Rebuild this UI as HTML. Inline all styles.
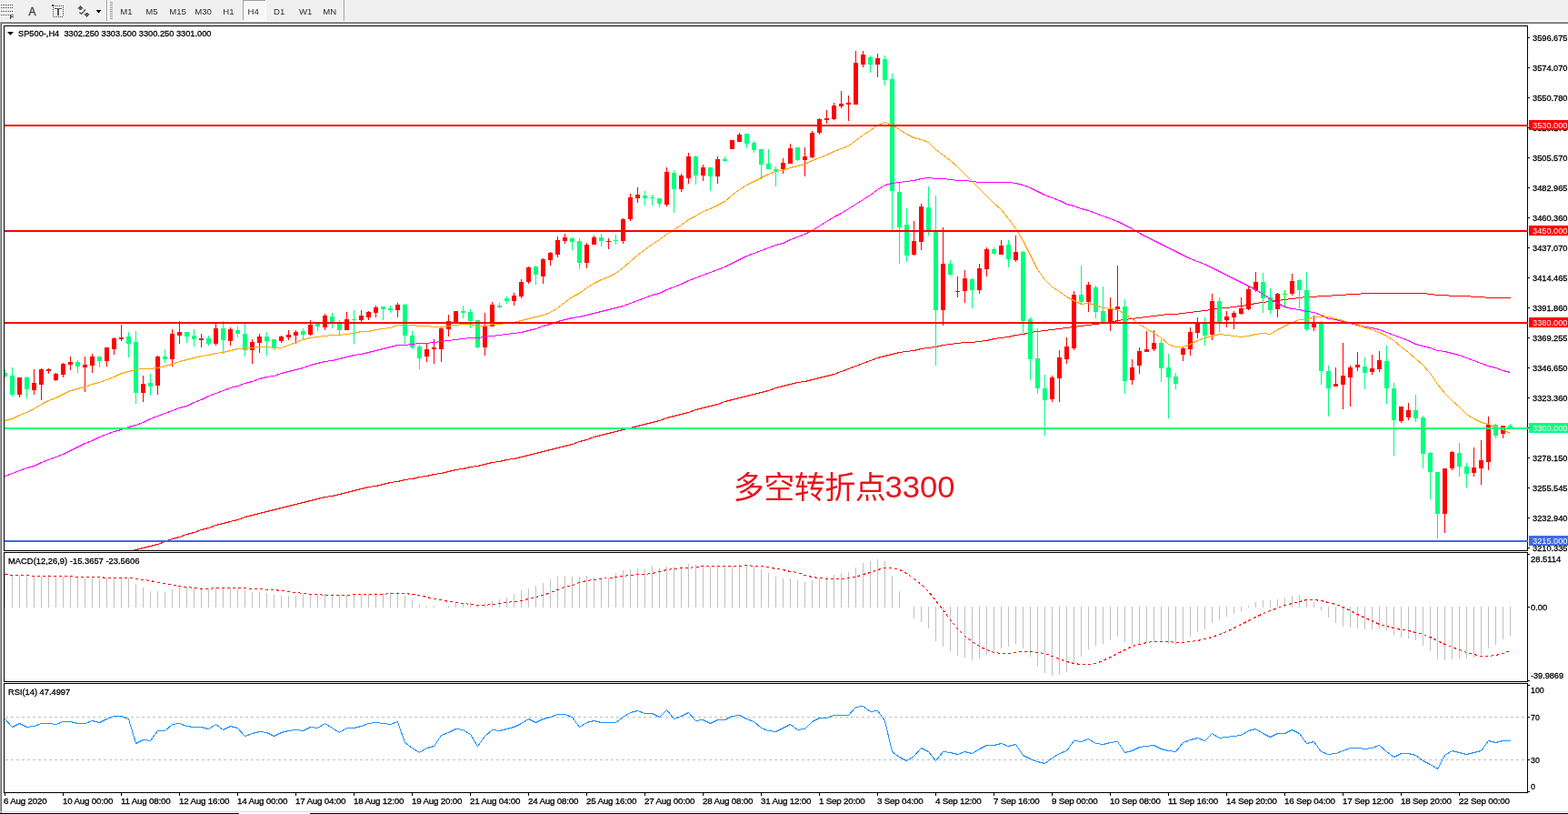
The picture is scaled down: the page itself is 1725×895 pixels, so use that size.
<!DOCTYPE html>
<html><head><meta charset="utf-8"><title>SP500 H4</title>
<style>
html,body{margin:0;padding:0;background:#fff;}
body{width:1725px;height:895px;overflow:hidden;}
svg{display:block;font-family:"Liberation Sans","Noto Sans CJK SC",sans-serif;}

</style></head><body>
<svg width="1725" height="895" viewBox="0 0 1725 895">
<rect x="0" y="0" width="1725" height="895" fill="#ffffff"/>
<rect x="0" y="0" width="1725" height="23" fill="#f0f0f0"/>
<rect x="0" y="23" width="1725" height="1" fill="#fbfbfb"/>
<rect x="0" y="24" width="1725" height="1" fill="#a0a0a0"/>
<rect x="0" y="25" width="1725" height="1" fill="#696969"/>
<rect x="0" y="24" width="1" height="871" fill="#a0a0a0"/>
<rect x="1" y="25" width="1" height="870" fill="#696969"/>
<rect x="0" y="892" width="1725" height="1" fill="#dcdcdc"/>
<rect x="0" y="894" width="263" height="1" fill="#000"/>
<rect x="341" y="894" width="1384" height="1" fill="#000"/>
<rect x="1" y="5" width="1" height="1" fill="#404040"/>
<rect x="3" y="5" width="1" height="1" fill="#404040"/>
<rect x="5" y="5" width="1" height="1" fill="#404040"/>
<rect x="7" y="5" width="1" height="1" fill="#404040"/>
<rect x="9" y="5" width="1" height="1" fill="#404040"/>
<rect x="11" y="5" width="1" height="1" fill="#404040"/>
<rect x="13" y="5" width="1" height="1" fill="#404040"/>
<rect x="1" y="8" width="1" height="1" fill="#404040"/>
<rect x="3" y="8" width="1" height="1" fill="#404040"/>
<rect x="5" y="8" width="1" height="1" fill="#404040"/>
<rect x="7" y="8" width="1" height="1" fill="#404040"/>
<rect x="9" y="8" width="1" height="1" fill="#404040"/>
<rect x="11" y="8" width="1" height="1" fill="#404040"/>
<rect x="13" y="8" width="1" height="1" fill="#404040"/>
<rect x="1" y="12" width="1" height="1" fill="#404040"/>
<rect x="3" y="12" width="1" height="1" fill="#404040"/>
<rect x="5" y="12" width="1" height="1" fill="#404040"/>
<rect x="7" y="12" width="1" height="1" fill="#404040"/>
<rect x="9" y="12" width="1" height="1" fill="#404040"/>
<rect x="11" y="12" width="1" height="1" fill="#404040"/>
<rect x="13" y="12" width="1" height="1" fill="#404040"/>
<rect x="1" y="16" width="1" height="1" fill="#404040"/>
<rect x="3" y="16" width="1" height="1" fill="#404040"/>
<rect x="5" y="16" width="1" height="1" fill="#404040"/>
<rect x="7" y="16" width="1" height="1" fill="#404040"/>
<rect x="9" y="16" width="1" height="1" fill="#404040"/>
<text x="10.5" y="21" font-size="8" font-weight="bold" fill="#404040">F</text>
<text x="31.6" y="17" font-size="12" fill="#505050" stroke="#505050" stroke-width="0.5" font-family="Liberation Sans">A</text>
<rect x="61" y="6" width="1" height="1" fill="#404040"/>
<rect x="63" y="6" width="1" height="1" fill="#404040"/>
<rect x="65" y="6" width="1" height="1" fill="#404040"/>
<rect x="67" y="6" width="1" height="1" fill="#404040"/>
<rect x="69" y="6" width="1" height="1" fill="#404040"/>
<rect x="58" y="18" width="1" height="1" fill="#404040"/>
<rect x="60" y="18" width="1" height="1" fill="#404040"/>
<rect x="62" y="18" width="1" height="1" fill="#404040"/>
<rect x="64" y="18" width="1" height="1" fill="#404040"/>
<rect x="66" y="18" width="1" height="1" fill="#404040"/>
<rect x="68" y="18" width="1" height="1" fill="#404040"/>
<rect x="58" y="8" width="1" height="1" fill="#404040"/>
<rect x="69" y="8" width="1" height="1" fill="#404040"/>
<rect x="58" y="10" width="1" height="1" fill="#404040"/>
<rect x="69" y="10" width="1" height="1" fill="#404040"/>
<rect x="58" y="12" width="1" height="1" fill="#404040"/>
<rect x="69" y="12" width="1" height="1" fill="#404040"/>
<rect x="58" y="14" width="1" height="1" fill="#404040"/>
<rect x="69" y="14" width="1" height="1" fill="#404040"/>
<rect x="58" y="16" width="1" height="1" fill="#404040"/>
<rect x="69" y="16" width="1" height="1" fill="#404040"/>
<rect x="57" y="5" width="2" height="2" fill="#404040"/>
<rect x="59" y="6" width="1" height="1" fill="#404040"/>
<rect x="60" y="9" width="8" height="1" fill="#555"/>
<rect x="63" y="9" width="2" height="8" fill="#555"/>
<polygon points="85,9.6 88.5,6 92,9.6 89.8,9.6 89.8,11 87.2,11 87.2,9.6" fill="#555"/>
<polyline points="87.5,13.5 89.5,15.5 94,10.5" fill="none" stroke="#444" stroke-width="1.2"/>
<polygon points="94.2,14 96.9,14 96.9,15.2 99,15.2 95.5,19 92,15.2 94.2,15.2" fill="#555"/>
<polygon points="105.5,11 111.5,11 108.5,14.5" fill="#000"/>
<rect x="117" y="0" width="1" height="23" fill="#a0a0a0"/>
<rect x="118" y="0" width="1" height="23" fill="#ffffff"/>
<rect x="121" y="2" width="3" height="1" fill="#a0a0a0"/>
<rect x="121" y="4" width="3" height="1" fill="#a0a0a0"/>
<rect x="121" y="6" width="3" height="1" fill="#a0a0a0"/>
<rect x="121" y="8" width="3" height="1" fill="#a0a0a0"/>
<rect x="121" y="10" width="3" height="1" fill="#a0a0a0"/>
<rect x="121" y="12" width="3" height="1" fill="#a0a0a0"/>
<rect x="121" y="14" width="3" height="1" fill="#a0a0a0"/>
<rect x="121" y="16" width="3" height="1" fill="#a0a0a0"/>
<rect x="121" y="18" width="3" height="1" fill="#a0a0a0"/>
<rect x="121" y="20" width="3" height="1" fill="#a0a0a0"/>
<defs><pattern id="chk" x="0" y="0" width="2" height="2" patternUnits="userSpaceOnUse"><rect width="2" height="2" fill="#f0f0f0"/><rect width="1" height="1" fill="#ffffff"/><rect x="1" y="1" width="1" height="1" fill="#ffffff"/></pattern></defs>
<rect x="267" y="0" width="26" height="23" fill="#ffffff"/>
<rect x="268" y="1" width="24" height="21" fill="url(#chk)"/>
<rect x="267" y="0" width="25" height="1" fill="#a0a0a0"/>
<rect x="267" y="0" width="1" height="22" fill="#a0a0a0"/>
<rect x="378" y="0" width="1" height="23" fill="#a0a0a0"/>
<rect x="379" y="0" width="1" height="23" fill="#ffffff"/>
<text x="132.3" y="15.6" font-size="9.6" fill="#2c2c2c">M1</text>
<text x="160.3" y="15.6" font-size="9.6" fill="#2c2c2c">M5</text>
<text x="186.3" y="15.6" font-size="9.6" fill="#2c2c2c">M15</text>
<text x="214.3" y="15.6" font-size="9.6" fill="#2c2c2c">M30</text>
<text x="245.3" y="15.6" font-size="9.6" fill="#2c2c2c">H1</text>
<text x="272.5" y="15.6" font-size="9.6" fill="#2c2c2c">H4</text>
<text x="301" y="15.6" font-size="9.6" fill="#2c2c2c">D1</text>
<text x="329" y="15.6" font-size="9.6" fill="#2c2c2c">W1</text>
<text x="355.3" y="15.6" font-size="9.6" fill="#2c2c2c">MN</text>
<rect x="4" y="28" width="1677" height="1" fill="#000"/>
<rect x="4" y="605" width="1677" height="1" fill="#000"/>
<rect x="4" y="28" width="1" height="578" fill="#000"/>
<rect x="1680" y="28" width="1" height="578" fill="#000"/>
<rect x="4" y="607" width="1677" height="1" fill="#000"/>
<rect x="4" y="749" width="1677" height="1" fill="#000"/>
<rect x="4" y="607" width="1" height="143" fill="#000"/>
<rect x="1680" y="607" width="1" height="143" fill="#000"/>
<rect x="4" y="751" width="1677" height="1" fill="#000"/>
<rect x="4" y="871" width="1677" height="1" fill="#000"/>
<rect x="4" y="751" width="1" height="121" fill="#000"/>
<rect x="1680" y="751" width="1" height="121" fill="#000"/>
<defs><clipPath id="cm"><rect x="5" y="29" width="1675" height="576"/></clipPath><clipPath id="cd"><rect x="5" y="608" width="1675" height="141"/></clipPath><clipPath id="cr"><rect x="5" y="752" width="1675" height="119"/></clipPath></defs>
<g clip-path="url(#cm)" shape-rendering="crispEdges">
<polyline points="5.5,640.5 13.5,638.5 21.5,636.5 29.5,634.5 37.5,632.5 45.5,630.5 53.5,628.5 61.5,626.5 69.5,624.5 77.5,622.5 85.5,620.5 93.5,618.5 101.5,616.5 109.5,614.5 117.5,612.5 125.5,610.5 133.5,608.5 141.5,606.5 149.5,604.5 157.5,602.5 165.5,600.5 173.5,598.5 181.5,595.5 189.5,592.5 197.5,590.5 205.5,587.5 213.5,585.5 221.5,582.5 229.5,580.5 237.5,577.5 245.5,575.5 253.5,573.5 261.5,571.5 269.5,568.5 277.5,566.5 285.5,564.5 293.5,562.5 301.5,560.5 309.5,558.5 317.5,556.5 325.5,554.5 333.5,552.5 341.5,550.5 349.5,548.5 357.5,546.5 365.5,545.5 373.5,543.5 381.5,541.5 389.5,539.5 397.5,537.5 405.5,535.5 413.5,534.5 421.5,532.5 429.5,530.5 437.5,529.5 445.5,527.5 453.5,526.5 461.5,524.5 469.5,523.5 477.5,521.5 485.5,520.5 493.5,518.5 501.5,516.5 509.5,515.5 517.5,513.5 525.5,512.5 533.5,510.5 541.5,508.5 549.5,507.5 557.5,505.5 565.5,504.5 573.5,502.5 581.5,500.5 589.5,498.5 597.5,496.5 605.5,494.5 613.5,492.5 621.5,490.5 629.5,488.5 637.5,485.5 645.5,483.5 653.5,480.5 661.5,478.5 669.5,476.5 677.5,474.5 685.5,472.5 693.5,470.5 701.5,468.5 709.5,466.5 717.5,464.5 725.5,462.5 733.5,459.5 741.5,457.5 749.5,455.5 757.5,453.5 765.5,450.5 773.5,448.5 781.5,446.5 789.5,444.5 797.5,441.5 805.5,439.5 813.5,437.5 821.5,435.5 829.5,433.5 837.5,431.5 845.5,429.5 853.5,426.5 861.5,424.5 869.5,422.5 877.5,420.5 885.5,419.5 893.5,417.5 901.5,415.5 909.5,413.5 917.5,411.5 925.5,408.5 933.5,405.5 941.5,402.5 949.5,399.5 957.5,396.5 965.5,393.5 973.5,391.5 981.5,389.5 989.5,387.5 997.5,386.5 1005.5,385.5 1013.5,383.5 1021.5,382.5 1029.5,381.5 1037.5,379.5 1045.5,378.5 1053.5,377.5 1061.5,376.5 1069.5,376.5 1077.5,375.5 1085.5,374.5 1093.5,372.5 1101.5,371.5 1109.5,370.5 1117.5,368.5 1125.5,367.5 1133.5,365.5 1141.5,364.5 1149.5,363.5 1157.5,362.5 1165.5,361.5 1173.5,360.5 1181.5,359.5 1189.5,358.5 1197.5,357.5 1205.5,356.5 1213.5,355.5 1221.5,354.5 1229.5,352.5 1237.5,351.5 1245.5,350.5 1253.5,349.5 1261.5,348.5 1269.5,347.5 1277.5,346.5 1285.5,345.5 1293.5,345.5 1301.5,344.5 1309.5,343.5 1317.5,342.5 1325.5,341.5 1333.5,340.5 1341.5,338.5 1349.5,338.5 1357.5,337.5 1365.5,336.5 1373.5,335.5 1381.5,333.5 1389.5,332.5 1397.5,331.5 1405.5,330.5 1413.5,329.5 1421.5,328.5 1429.5,327.5 1437.5,326.5 1445.5,326.5 1453.5,325.5 1461.5,325.5 1469.5,324.5 1477.5,324.5 1485.5,323.5 1493.5,323.5 1501.5,322.5 1509.5,322.5 1517.5,322.5 1525.5,322.5 1533.5,322.5 1541.5,322.5 1549.5,322.5 1557.5,322.5 1565.5,322.5 1573.5,323.5 1581.5,324.5 1589.5,324.5 1597.5,325.5 1605.5,325.5 1613.5,325.5 1621.5,326.5 1629.5,326.5 1637.5,327.5 1645.5,327.5 1653.5,327.5 1661.5,327.5" fill="none" stroke="#ff0000" stroke-width="1"/>
<rect x="5" y="406" width="1" height="9" fill="#00ff7f"/>
<rect x="3" y="410" width="5" height="4" fill="#00ff7f"/>
<rect x="13" y="404" width="1" height="32" fill="#00ff7f"/>
<rect x="11" y="413" width="5" height="21" fill="#00ff7f"/>
<rect x="21" y="415" width="1" height="22" fill="#ff0000"/>
<rect x="19" y="415" width="5" height="19" fill="#ff0000"/>
<rect x="29" y="414" width="1" height="24" fill="#00ff7f"/>
<rect x="27" y="415" width="5" height="13" fill="#00ff7f"/>
<rect x="37" y="406" width="1" height="28" fill="#ff0000"/>
<rect x="35" y="421" width="5" height="8" fill="#ff0000"/>
<rect x="45" y="405" width="1" height="35" fill="#ff0000"/>
<rect x="43" y="406" width="5" height="17" fill="#ff0000"/>
<rect x="53" y="405" width="1" height="6" fill="#ff0000"/>
<rect x="51" y="406" width="5" height="2" fill="#ff0000"/>
<rect x="61" y="410" width="1" height="9" fill="#ff0000"/>
<rect x="59" y="411" width="5" height="7" fill="#ff0000"/>
<rect x="69" y="399" width="1" height="16" fill="#ff0000"/>
<rect x="67" y="400" width="5" height="12" fill="#ff0000"/>
<rect x="77" y="392" width="1" height="15" fill="#ff0000"/>
<rect x="75" y="398" width="5" height="3" fill="#ff0000"/>
<rect x="85" y="396" width="1" height="14" fill="#00ff7f"/>
<rect x="83" y="398" width="5" height="5" fill="#00ff7f"/>
<rect x="93" y="392" width="1" height="39" fill="#ff0000"/>
<rect x="91" y="401" width="5" height="3" fill="#ff0000"/>
<rect x="101" y="389" width="1" height="21" fill="#ff0000"/>
<rect x="99" y="392" width="5" height="10" fill="#ff0000"/>
<rect x="109" y="392" width="1" height="12" fill="#00ff7f"/>
<rect x="107" y="392" width="5" height="5" fill="#00ff7f"/>
<rect x="117" y="382" width="1" height="21" fill="#ff0000"/>
<rect x="115" y="382" width="5" height="15" fill="#ff0000"/>
<rect x="125" y="371" width="1" height="19" fill="#ff0000"/>
<rect x="123" y="372" width="5" height="12" fill="#ff0000"/>
<rect x="133" y="357" width="1" height="18" fill="#ff0000"/>
<rect x="131" y="371" width="5" height="2" fill="#ff0000"/>
<rect x="141" y="365" width="1" height="28" fill="#00ff7f"/>
<rect x="139" y="370" width="5" height="8" fill="#00ff7f"/>
<rect x="149" y="364" width="1" height="80" fill="#00ff7f"/>
<rect x="147" y="376" width="5" height="56" fill="#00ff7f"/>
<rect x="157" y="413" width="1" height="29" fill="#ff0000"/>
<rect x="155" y="422" width="5" height="10" fill="#ff0000"/>
<rect x="165" y="411" width="1" height="24" fill="#00ff7f"/>
<rect x="163" y="421" width="5" height="4" fill="#00ff7f"/>
<rect x="173" y="391" width="1" height="43" fill="#ff0000"/>
<rect x="171" y="392" width="5" height="32" fill="#ff0000"/>
<rect x="181" y="384" width="1" height="15" fill="#00ff7f"/>
<rect x="179" y="392" width="5" height="3" fill="#00ff7f"/>
<rect x="189" y="362" width="1" height="41" fill="#ff0000"/>
<rect x="187" y="367" width="5" height="28" fill="#ff0000"/>
<rect x="197" y="353" width="1" height="25" fill="#ff0000"/>
<rect x="195" y="365" width="5" height="4" fill="#ff0000"/>
<rect x="205" y="365" width="1" height="12" fill="#00ff7f"/>
<rect x="203" y="365" width="5" height="5" fill="#00ff7f"/>
<rect x="213" y="362" width="1" height="19" fill="#00ff7f"/>
<rect x="211" y="369" width="5" height="4" fill="#00ff7f"/>
<rect x="221" y="367" width="1" height="15" fill="#ff0000"/>
<rect x="219" y="372" width="5" height="2" fill="#ff0000"/>
<rect x="229" y="369" width="1" height="11" fill="#00ff7f"/>
<rect x="227" y="372" width="5" height="6" fill="#00ff7f"/>
<rect x="237" y="356" width="1" height="24" fill="#ff0000"/>
<rect x="235" y="361" width="5" height="17" fill="#ff0000"/>
<rect x="245" y="353" width="1" height="36" fill="#00ff7f"/>
<rect x="243" y="361" width="5" height="13" fill="#00ff7f"/>
<rect x="253" y="360" width="1" height="20" fill="#ff0000"/>
<rect x="251" y="362" width="5" height="13" fill="#ff0000"/>
<rect x="261" y="359" width="1" height="12" fill="#00ff7f"/>
<rect x="259" y="363" width="5" height="4" fill="#00ff7f"/>
<rect x="269" y="356" width="1" height="36" fill="#00ff7f"/>
<rect x="267" y="367" width="5" height="18" fill="#00ff7f"/>
<rect x="277" y="373" width="1" height="27" fill="#ff0000"/>
<rect x="275" y="376" width="5" height="9" fill="#ff0000"/>
<rect x="285" y="367" width="1" height="21" fill="#ff0000"/>
<rect x="283" y="370" width="5" height="7" fill="#ff0000"/>
<rect x="293" y="365" width="1" height="26" fill="#00ff7f"/>
<rect x="291" y="370" width="5" height="5" fill="#00ff7f"/>
<rect x="301" y="373" width="1" height="12" fill="#00ff7f"/>
<rect x="299" y="373" width="5" height="9" fill="#00ff7f"/>
<rect x="309" y="369" width="1" height="8" fill="#ff0000"/>
<rect x="307" y="370" width="5" height="5" fill="#ff0000"/>
<rect x="317" y="363" width="1" height="11" fill="#ff0000"/>
<rect x="315" y="368" width="5" height="3" fill="#ff0000"/>
<rect x="325" y="363" width="1" height="15" fill="#ff0000"/>
<rect x="323" y="365" width="5" height="4" fill="#ff0000"/>
<rect x="333" y="361" width="1" height="12" fill="#00ff7f"/>
<rect x="331" y="364" width="5" height="4" fill="#00ff7f"/>
<rect x="341" y="352" width="1" height="17" fill="#ff0000"/>
<rect x="339" y="357" width="5" height="11" fill="#ff0000"/>
<rect x="349" y="356" width="1" height="8" fill="#00ff7f"/>
<rect x="347" y="356" width="5" height="3" fill="#00ff7f"/>
<rect x="357" y="345" width="1" height="18" fill="#ff0000"/>
<rect x="355" y="347" width="5" height="13" fill="#ff0000"/>
<rect x="365" y="344" width="1" height="17" fill="#00ff7f"/>
<rect x="363" y="348" width="5" height="6" fill="#00ff7f"/>
<rect x="373" y="352" width="1" height="16" fill="#00ff7f"/>
<rect x="371" y="356" width="5" height="7" fill="#00ff7f"/>
<rect x="381" y="343" width="1" height="20" fill="#ff0000"/>
<rect x="379" y="351" width="5" height="12" fill="#ff0000"/>
<rect x="389" y="341" width="1" height="37" fill="#00ff7f"/>
<rect x="387" y="351" width="5" height="1" fill="#00ff7f"/>
<rect x="397" y="341" width="1" height="13" fill="#ff0000"/>
<rect x="395" y="347" width="5" height="5" fill="#ff0000"/>
<rect x="405" y="342" width="1" height="10" fill="#ff0000"/>
<rect x="403" y="343" width="5" height="6" fill="#ff0000"/>
<rect x="413" y="336" width="1" height="13" fill="#ff0000"/>
<rect x="411" y="338" width="5" height="6" fill="#ff0000"/>
<rect x="421" y="337" width="1" height="15" fill="#00ff7f"/>
<rect x="419" y="337" width="5" height="3" fill="#00ff7f"/>
<rect x="429" y="336" width="1" height="8" fill="#00ff7f"/>
<rect x="427" y="339" width="5" height="2" fill="#00ff7f"/>
<rect x="437" y="333" width="1" height="16" fill="#ff0000"/>
<rect x="435" y="335" width="5" height="6" fill="#ff0000"/>
<rect x="445" y="334" width="1" height="44" fill="#00ff7f"/>
<rect x="443" y="335" width="5" height="34" fill="#00ff7f"/>
<rect x="453" y="364" width="1" height="20" fill="#00ff7f"/>
<rect x="451" y="369" width="5" height="13" fill="#00ff7f"/>
<rect x="461" y="379" width="1" height="27" fill="#00ff7f"/>
<rect x="459" y="381" width="5" height="13" fill="#00ff7f"/>
<rect x="469" y="378" width="1" height="20" fill="#ff0000"/>
<rect x="467" y="384" width="5" height="8" fill="#ff0000"/>
<rect x="477" y="373" width="1" height="27" fill="#ff0000"/>
<rect x="475" y="382" width="5" height="2" fill="#ff0000"/>
<rect x="485" y="360" width="1" height="38" fill="#ff0000"/>
<rect x="483" y="361" width="5" height="23" fill="#ff0000"/>
<rect x="493" y="346" width="1" height="24" fill="#ff0000"/>
<rect x="491" y="353" width="5" height="9" fill="#ff0000"/>
<rect x="501" y="342" width="1" height="14" fill="#ff0000"/>
<rect x="499" y="342" width="5" height="14" fill="#ff0000"/>
<rect x="509" y="336" width="1" height="14" fill="#00ff7f"/>
<rect x="507" y="342" width="5" height="2" fill="#00ff7f"/>
<rect x="517" y="340" width="1" height="21" fill="#00ff7f"/>
<rect x="515" y="343" width="5" height="10" fill="#00ff7f"/>
<rect x="525" y="352" width="1" height="31" fill="#00ff7f"/>
<rect x="523" y="352" width="5" height="30" fill="#00ff7f"/>
<rect x="533" y="344" width="1" height="47" fill="#ff0000"/>
<rect x="531" y="358" width="5" height="24" fill="#ff0000"/>
<rect x="541" y="332" width="1" height="27" fill="#ff0000"/>
<rect x="539" y="335" width="5" height="24" fill="#ff0000"/>
<rect x="549" y="333" width="1" height="6" fill="#00ff7f"/>
<rect x="547" y="336" width="5" height="2" fill="#00ff7f"/>
<rect x="557" y="326" width="1" height="8" fill="#00ff7f"/>
<rect x="555" y="328" width="5" height="3" fill="#00ff7f"/>
<rect x="565" y="322" width="1" height="14" fill="#ff0000"/>
<rect x="563" y="325" width="5" height="6" fill="#ff0000"/>
<rect x="573" y="307" width="1" height="21" fill="#ff0000"/>
<rect x="571" y="310" width="5" height="16" fill="#ff0000"/>
<rect x="581" y="293" width="1" height="19" fill="#ff0000"/>
<rect x="579" y="294" width="5" height="16" fill="#ff0000"/>
<rect x="589" y="292" width="1" height="21" fill="#00ff7f"/>
<rect x="587" y="293" width="5" height="9" fill="#00ff7f"/>
<rect x="597" y="284" width="1" height="28" fill="#ff0000"/>
<rect x="595" y="285" width="5" height="19" fill="#ff0000"/>
<rect x="605" y="277" width="1" height="15" fill="#ff0000"/>
<rect x="603" y="278" width="5" height="8" fill="#ff0000"/>
<rect x="613" y="260" width="1" height="23" fill="#ff0000"/>
<rect x="611" y="264" width="5" height="16" fill="#ff0000"/>
<rect x="621" y="257" width="1" height="11" fill="#ff0000"/>
<rect x="619" y="261" width="5" height="4" fill="#ff0000"/>
<rect x="629" y="261" width="1" height="14" fill="#00ff7f"/>
<rect x="627" y="262" width="5" height="4" fill="#00ff7f"/>
<rect x="637" y="262" width="1" height="34" fill="#00ff7f"/>
<rect x="635" y="265" width="5" height="24" fill="#00ff7f"/>
<rect x="645" y="267" width="1" height="28" fill="#ff0000"/>
<rect x="643" y="269" width="5" height="20" fill="#ff0000"/>
<rect x="653" y="259" width="1" height="10" fill="#ff0000"/>
<rect x="651" y="261" width="5" height="8" fill="#ff0000"/>
<rect x="661" y="257" width="1" height="14" fill="#00ff7f"/>
<rect x="659" y="261" width="5" height="4" fill="#00ff7f"/>
<rect x="669" y="262" width="1" height="12" fill="#ff0000"/>
<rect x="667" y="265" width="5" height="1" fill="#ff0000"/>
<rect x="677" y="258" width="1" height="11" fill="#00ff7f"/>
<rect x="675" y="264" width="5" height="1" fill="#00ff7f"/>
<rect x="685" y="240" width="1" height="28" fill="#ff0000"/>
<rect x="683" y="241" width="5" height="24" fill="#ff0000"/>
<rect x="693" y="213" width="1" height="30" fill="#ff0000"/>
<rect x="691" y="217" width="5" height="24" fill="#ff0000"/>
<rect x="701" y="206" width="1" height="17" fill="#ff0000"/>
<rect x="699" y="214" width="5" height="4" fill="#ff0000"/>
<rect x="709" y="210" width="1" height="16" fill="#00ff7f"/>
<rect x="707" y="215" width="5" height="3" fill="#00ff7f"/>
<rect x="717" y="214" width="1" height="12" fill="#00ff7f"/>
<rect x="715" y="217" width="5" height="1" fill="#00ff7f"/>
<rect x="725" y="218" width="1" height="10" fill="#00ff7f"/>
<rect x="723" y="218" width="5" height="6" fill="#00ff7f"/>
<rect x="733" y="184" width="1" height="43" fill="#ff0000"/>
<rect x="731" y="189" width="5" height="36" fill="#ff0000"/>
<rect x="741" y="187" width="1" height="47" fill="#00ff7f"/>
<rect x="739" y="190" width="5" height="18" fill="#00ff7f"/>
<rect x="749" y="191" width="1" height="20" fill="#ff0000"/>
<rect x="747" y="193" width="5" height="15" fill="#ff0000"/>
<rect x="757" y="168" width="1" height="34" fill="#ff0000"/>
<rect x="755" y="172" width="5" height="24" fill="#ff0000"/>
<rect x="765" y="171" width="1" height="32" fill="#00ff7f"/>
<rect x="763" y="172" width="5" height="21" fill="#00ff7f"/>
<rect x="773" y="181" width="1" height="18" fill="#ff0000"/>
<rect x="771" y="184" width="5" height="9" fill="#ff0000"/>
<rect x="781" y="184" width="1" height="26" fill="#00ff7f"/>
<rect x="779" y="184" width="5" height="10" fill="#00ff7f"/>
<rect x="789" y="172" width="1" height="30" fill="#ff0000"/>
<rect x="787" y="175" width="5" height="19" fill="#ff0000"/>
<rect x="797" y="172" width="1" height="6" fill="#00ff7f"/>
<rect x="795" y="175" width="5" height="2" fill="#00ff7f"/>
<rect x="805" y="154" width="1" height="10" fill="#ff0000"/>
<rect x="803" y="154" width="5" height="10" fill="#ff0000"/>
<rect x="813" y="146" width="1" height="10" fill="#ff0000"/>
<rect x="811" y="148" width="5" height="8" fill="#ff0000"/>
<rect x="821" y="147" width="1" height="16" fill="#00ff7f"/>
<rect x="819" y="147" width="5" height="11" fill="#00ff7f"/>
<rect x="829" y="155" width="1" height="13" fill="#00ff7f"/>
<rect x="827" y="157" width="5" height="8" fill="#00ff7f"/>
<rect x="837" y="164" width="1" height="33" fill="#00ff7f"/>
<rect x="835" y="164" width="5" height="17" fill="#00ff7f"/>
<rect x="845" y="164" width="1" height="22" fill="#00ff7f"/>
<rect x="843" y="180" width="5" height="6" fill="#00ff7f"/>
<rect x="853" y="183" width="1" height="22" fill="#00ff7f"/>
<rect x="851" y="186" width="5" height="2" fill="#00ff7f"/>
<rect x="861" y="174" width="1" height="17" fill="#ff0000"/>
<rect x="859" y="179" width="5" height="7" fill="#ff0000"/>
<rect x="869" y="158" width="1" height="22" fill="#ff0000"/>
<rect x="867" y="163" width="5" height="17" fill="#ff0000"/>
<rect x="877" y="162" width="1" height="15" fill="#00ff7f"/>
<rect x="875" y="162" width="5" height="14" fill="#00ff7f"/>
<rect x="885" y="162" width="1" height="32" fill="#ff0000"/>
<rect x="883" y="172" width="5" height="4" fill="#ff0000"/>
<rect x="893" y="144" width="1" height="30" fill="#ff0000"/>
<rect x="891" y="146" width="5" height="27" fill="#ff0000"/>
<rect x="901" y="130" width="1" height="18" fill="#ff0000"/>
<rect x="899" y="131" width="5" height="15" fill="#ff0000"/>
<rect x="909" y="121" width="1" height="15" fill="#ff0000"/>
<rect x="907" y="130" width="5" height="2" fill="#ff0000"/>
<rect x="917" y="113" width="1" height="19" fill="#ff0000"/>
<rect x="915" y="116" width="5" height="15" fill="#ff0000"/>
<rect x="925" y="100" width="1" height="19" fill="#ff0000"/>
<rect x="923" y="114" width="5" height="3" fill="#ff0000"/>
<rect x="933" y="105" width="1" height="28" fill="#ff0000"/>
<rect x="931" y="113" width="5" height="2" fill="#ff0000"/>
<rect x="941" y="56" width="1" height="59" fill="#ff0000"/>
<rect x="939" y="69" width="5" height="46" fill="#ff0000"/>
<rect x="949" y="56" width="1" height="18" fill="#ff0000"/>
<rect x="947" y="60" width="5" height="11" fill="#ff0000"/>
<rect x="957" y="61" width="1" height="19" fill="#00ff7f"/>
<rect x="955" y="63" width="5" height="8" fill="#00ff7f"/>
<rect x="965" y="59" width="1" height="26" fill="#ff0000"/>
<rect x="963" y="64" width="5" height="7" fill="#ff0000"/>
<rect x="973" y="61" width="1" height="33" fill="#00ff7f"/>
<rect x="971" y="65" width="5" height="23" fill="#00ff7f"/>
<rect x="981" y="81" width="1" height="172" fill="#00ff7f"/>
<rect x="979" y="87" width="5" height="123" fill="#00ff7f"/>
<rect x="989" y="200" width="1" height="90" fill="#00ff7f"/>
<rect x="987" y="211" width="5" height="39" fill="#00ff7f"/>
<rect x="997" y="229" width="1" height="59" fill="#00ff7f"/>
<rect x="995" y="247" width="5" height="34" fill="#00ff7f"/>
<rect x="1005" y="243" width="1" height="38" fill="#ff0000"/>
<rect x="1003" y="265" width="5" height="15" fill="#ff0000"/>
<rect x="1013" y="224" width="1" height="51" fill="#ff0000"/>
<rect x="1011" y="227" width="5" height="39" fill="#ff0000"/>
<rect x="1021" y="205" width="1" height="54" fill="#00ff7f"/>
<rect x="1019" y="228" width="5" height="25" fill="#00ff7f"/>
<rect x="1029" y="215" width="1" height="187" fill="#00ff7f"/>
<rect x="1027" y="255" width="5" height="86" fill="#00ff7f"/>
<rect x="1037" y="250" width="1" height="108" fill="#ff0000"/>
<rect x="1035" y="290" width="5" height="51" fill="#ff0000"/>
<rect x="1045" y="286" width="1" height="17" fill="#00ff7f"/>
<rect x="1043" y="290" width="5" height="12" fill="#00ff7f"/>
<rect x="1053" y="304" width="1" height="23" fill="#ff0000"/>
<rect x="1051" y="320" width="5" height="1" fill="#ff0000"/>
<rect x="1061" y="297" width="1" height="36" fill="#ff0000"/>
<rect x="1059" y="306" width="5" height="14" fill="#ff0000"/>
<rect x="1069" y="306" width="1" height="33" fill="#00ff7f"/>
<rect x="1067" y="307" width="5" height="12" fill="#00ff7f"/>
<rect x="1077" y="290" width="1" height="33" fill="#ff0000"/>
<rect x="1075" y="295" width="5" height="24" fill="#ff0000"/>
<rect x="1085" y="272" width="1" height="32" fill="#ff0000"/>
<rect x="1083" y="274" width="5" height="22" fill="#ff0000"/>
<rect x="1093" y="272" width="1" height="8" fill="#00ff7f"/>
<rect x="1091" y="274" width="5" height="5" fill="#00ff7f"/>
<rect x="1101" y="264" width="1" height="16" fill="#ff0000"/>
<rect x="1099" y="270" width="5" height="10" fill="#ff0000"/>
<rect x="1109" y="264" width="1" height="30" fill="#00ff7f"/>
<rect x="1107" y="269" width="5" height="16" fill="#00ff7f"/>
<rect x="1117" y="259" width="1" height="29" fill="#ff0000"/>
<rect x="1115" y="277" width="5" height="9" fill="#ff0000"/>
<rect x="1125" y="276" width="1" height="90" fill="#00ff7f"/>
<rect x="1123" y="277" width="5" height="76" fill="#00ff7f"/>
<rect x="1133" y="349" width="1" height="69" fill="#00ff7f"/>
<rect x="1131" y="351" width="5" height="44" fill="#00ff7f"/>
<rect x="1141" y="361" width="1" height="72" fill="#00ff7f"/>
<rect x="1139" y="394" width="5" height="33" fill="#00ff7f"/>
<rect x="1149" y="412" width="1" height="67" fill="#00ff7f"/>
<rect x="1147" y="427" width="5" height="13" fill="#00ff7f"/>
<rect x="1157" y="413" width="1" height="29" fill="#ff0000"/>
<rect x="1155" y="415" width="5" height="24" fill="#ff0000"/>
<rect x="1165" y="385" width="1" height="57" fill="#ff0000"/>
<rect x="1163" y="393" width="5" height="23" fill="#ff0000"/>
<rect x="1173" y="371" width="1" height="29" fill="#ff0000"/>
<rect x="1171" y="381" width="5" height="14" fill="#ff0000"/>
<rect x="1181" y="320" width="1" height="65" fill="#ff0000"/>
<rect x="1179" y="324" width="5" height="59" fill="#ff0000"/>
<rect x="1189" y="292" width="1" height="42" fill="#00ff7f"/>
<rect x="1187" y="324" width="5" height="8" fill="#00ff7f"/>
<rect x="1197" y="310" width="1" height="33" fill="#ff0000"/>
<rect x="1195" y="313" width="5" height="19" fill="#ff0000"/>
<rect x="1205" y="314" width="1" height="36" fill="#00ff7f"/>
<rect x="1203" y="316" width="5" height="27" fill="#00ff7f"/>
<rect x="1213" y="315" width="1" height="39" fill="#00ff7f"/>
<rect x="1211" y="342" width="5" height="12" fill="#00ff7f"/>
<rect x="1221" y="327" width="1" height="37" fill="#ff0000"/>
<rect x="1219" y="340" width="5" height="14" fill="#ff0000"/>
<rect x="1229" y="292" width="1" height="62" fill="#ff0000"/>
<rect x="1227" y="337" width="5" height="3" fill="#ff0000"/>
<rect x="1237" y="329" width="1" height="104" fill="#00ff7f"/>
<rect x="1235" y="337" width="5" height="82" fill="#00ff7f"/>
<rect x="1245" y="395" width="1" height="28" fill="#ff0000"/>
<rect x="1243" y="404" width="5" height="14" fill="#ff0000"/>
<rect x="1253" y="382" width="1" height="29" fill="#ff0000"/>
<rect x="1251" y="386" width="5" height="16" fill="#ff0000"/>
<rect x="1261" y="364" width="1" height="23" fill="#ff0000"/>
<rect x="1259" y="384" width="5" height="3" fill="#ff0000"/>
<rect x="1269" y="363" width="1" height="23" fill="#ff0000"/>
<rect x="1267" y="377" width="5" height="7" fill="#ff0000"/>
<rect x="1277" y="373" width="1" height="47" fill="#00ff7f"/>
<rect x="1275" y="377" width="5" height="28" fill="#00ff7f"/>
<rect x="1285" y="389" width="1" height="71" fill="#00ff7f"/>
<rect x="1283" y="404" width="5" height="11" fill="#00ff7f"/>
<rect x="1293" y="410" width="1" height="18" fill="#00ff7f"/>
<rect x="1291" y="414" width="5" height="8" fill="#00ff7f"/>
<rect x="1301" y="382" width="1" height="15" fill="#ff0000"/>
<rect x="1299" y="383" width="5" height="7" fill="#ff0000"/>
<rect x="1309" y="360" width="1" height="31" fill="#ff0000"/>
<rect x="1307" y="365" width="5" height="19" fill="#ff0000"/>
<rect x="1317" y="349" width="1" height="23" fill="#ff0000"/>
<rect x="1315" y="355" width="5" height="11" fill="#ff0000"/>
<rect x="1325" y="349" width="1" height="31" fill="#00ff7f"/>
<rect x="1323" y="354" width="5" height="15" fill="#00ff7f"/>
<rect x="1333" y="323" width="1" height="51" fill="#ff0000"/>
<rect x="1331" y="331" width="5" height="37" fill="#ff0000"/>
<rect x="1341" y="327" width="1" height="38" fill="#00ff7f"/>
<rect x="1339" y="331" width="5" height="23" fill="#00ff7f"/>
<rect x="1349" y="342" width="1" height="18" fill="#ff0000"/>
<rect x="1347" y="348" width="5" height="4" fill="#ff0000"/>
<rect x="1357" y="342" width="1" height="20" fill="#ff0000"/>
<rect x="1355" y="344" width="5" height="5" fill="#ff0000"/>
<rect x="1365" y="327" width="1" height="19" fill="#ff0000"/>
<rect x="1363" y="339" width="5" height="6" fill="#ff0000"/>
<rect x="1373" y="314" width="1" height="27" fill="#ff0000"/>
<rect x="1371" y="318" width="5" height="22" fill="#ff0000"/>
<rect x="1381" y="299" width="1" height="22" fill="#ff0000"/>
<rect x="1379" y="310" width="5" height="9" fill="#ff0000"/>
<rect x="1389" y="300" width="1" height="44" fill="#00ff7f"/>
<rect x="1387" y="310" width="5" height="18" fill="#00ff7f"/>
<rect x="1397" y="317" width="1" height="28" fill="#00ff7f"/>
<rect x="1395" y="327" width="5" height="14" fill="#00ff7f"/>
<rect x="1405" y="322" width="1" height="27" fill="#ff0000"/>
<rect x="1403" y="323" width="5" height="17" fill="#ff0000"/>
<rect x="1413" y="319" width="1" height="18" fill="#00ff00"/>
<rect x="1411" y="323" width="5" height="1" fill="#00ff00"/>
<rect x="1421" y="301" width="1" height="24" fill="#ff0000"/>
<rect x="1419" y="309" width="5" height="14" fill="#ff0000"/>
<rect x="1429" y="307" width="1" height="32" fill="#00ff7f"/>
<rect x="1427" y="308" width="5" height="11" fill="#00ff7f"/>
<rect x="1437" y="299" width="1" height="65" fill="#00ff7f"/>
<rect x="1435" y="319" width="5" height="43" fill="#00ff7f"/>
<rect x="1445" y="347" width="1" height="17" fill="#ff0000"/>
<rect x="1443" y="354" width="5" height="6" fill="#ff0000"/>
<rect x="1453" y="353" width="1" height="70" fill="#00ff7f"/>
<rect x="1451" y="354" width="5" height="54" fill="#00ff7f"/>
<rect x="1461" y="402" width="1" height="56" fill="#00ff7f"/>
<rect x="1459" y="408" width="5" height="19" fill="#00ff7f"/>
<rect x="1469" y="404" width="1" height="21" fill="#ff0000"/>
<rect x="1467" y="422" width="5" height="3" fill="#ff0000"/>
<rect x="1477" y="377" width="1" height="73" fill="#ff0000"/>
<rect x="1475" y="413" width="5" height="10" fill="#ff0000"/>
<rect x="1485" y="402" width="1" height="45" fill="#ff0000"/>
<rect x="1483" y="404" width="5" height="11" fill="#ff0000"/>
<rect x="1493" y="387" width="1" height="21" fill="#ff0000"/>
<rect x="1491" y="401" width="5" height="3" fill="#ff0000"/>
<rect x="1501" y="393" width="1" height="35" fill="#00ff7f"/>
<rect x="1499" y="403" width="5" height="7" fill="#00ff7f"/>
<rect x="1509" y="390" width="1" height="22" fill="#ff0000"/>
<rect x="1507" y="405" width="5" height="4" fill="#ff0000"/>
<rect x="1517" y="386" width="1" height="23" fill="#ff0000"/>
<rect x="1515" y="396" width="5" height="10" fill="#ff0000"/>
<rect x="1525" y="380" width="1" height="64" fill="#00ff7f"/>
<rect x="1523" y="397" width="5" height="30" fill="#00ff7f"/>
<rect x="1533" y="421" width="1" height="80" fill="#00ff7f"/>
<rect x="1531" y="427" width="5" height="35" fill="#00ff7f"/>
<rect x="1541" y="447" width="1" height="18" fill="#ff0000"/>
<rect x="1539" y="447" width="5" height="16" fill="#ff0000"/>
<rect x="1549" y="443" width="1" height="19" fill="#ff0000"/>
<rect x="1547" y="451" width="5" height="8" fill="#ff0000"/>
<rect x="1557" y="434" width="1" height="30" fill="#00ff7f"/>
<rect x="1555" y="451" width="5" height="9" fill="#00ff7f"/>
<rect x="1565" y="457" width="1" height="58" fill="#00ff7f"/>
<rect x="1563" y="459" width="5" height="40" fill="#00ff7f"/>
<rect x="1573" y="497" width="1" height="52" fill="#00ff7f"/>
<rect x="1571" y="498" width="5" height="21" fill="#00ff7f"/>
<rect x="1581" y="519" width="1" height="73" fill="#00ff7f"/>
<rect x="1579" y="519" width="5" height="46" fill="#00ff7f"/>
<rect x="1589" y="515" width="1" height="71" fill="#ff0000"/>
<rect x="1587" y="515" width="5" height="50" fill="#ff0000"/>
<rect x="1597" y="496" width="1" height="21" fill="#ff0000"/>
<rect x="1595" y="497" width="5" height="18" fill="#ff0000"/>
<rect x="1605" y="487" width="1" height="37" fill="#00ff7f"/>
<rect x="1603" y="498" width="5" height="15" fill="#00ff7f"/>
<rect x="1613" y="509" width="1" height="27" fill="#00ff7f"/>
<rect x="1611" y="513" width="5" height="8" fill="#00ff7f"/>
<rect x="1621" y="492" width="1" height="32" fill="#ff0000"/>
<rect x="1619" y="514" width="5" height="6" fill="#ff0000"/>
<rect x="1629" y="484" width="1" height="49" fill="#ff0000"/>
<rect x="1627" y="506" width="5" height="9" fill="#ff0000"/>
<rect x="1637" y="458" width="1" height="59" fill="#ff0000"/>
<rect x="1635" y="467" width="5" height="41" fill="#ff0000"/>
<rect x="1645" y="466" width="1" height="16" fill="#00ff7f"/>
<rect x="1643" y="467" width="5" height="12" fill="#00ff7f"/>
<rect x="1653" y="468" width="1" height="14" fill="#ff0000"/>
<rect x="1651" y="468" width="5" height="9" fill="#ff0000"/>
<rect x="1661" y="466" width="1" height="5" fill="#00ff7f"/>
<rect x="1659" y="468" width="5" height="3" fill="#00ff7f"/>
<polyline points="5.5,523.5 13.5,520.5 21.5,517.5 29.5,514.5 37.5,512.5 45.5,508.5 53.5,505.5 61.5,502.5 69.5,499.5 77.5,495.5 85.5,491.5 93.5,487.5 101.5,484.5 109.5,480.5 117.5,477.5 125.5,474.5 133.5,472.5 141.5,469.5 149.5,467.5 157.5,464.5 165.5,460.5 173.5,457.5 181.5,454.5 189.5,451.5 197.5,448.5 205.5,446.5 213.5,442.5 221.5,439.5 229.5,435.5 237.5,432.5 245.5,429.5 253.5,426.5 261.5,424.5 269.5,421.5 277.5,419.5 285.5,416.5 293.5,414.5 301.5,413.5 309.5,410.5 317.5,408.5 325.5,406.5 333.5,404.5 341.5,401.5 349.5,399.5 357.5,397.5 365.5,396.5 373.5,394.5 381.5,392.5 389.5,390.5 397.5,389.5 405.5,387.5 413.5,385.5 421.5,383.5 429.5,381.5 437.5,379.5 445.5,379.5 453.5,378.5 461.5,377.5 469.5,377.5 477.5,376.5 485.5,375.5 493.5,374.5 501.5,373.5 509.5,372.5 517.5,371.5 525.5,371.5 533.5,370.5 541.5,369.5 549.5,368.5 557.5,367.5 565.5,366.5 573.5,365.5 581.5,363.5 589.5,361.5 597.5,358.5 605.5,356.5 613.5,353.5 621.5,351.5 629.5,349.5 637.5,348.5 645.5,346.5 653.5,344.5 661.5,342.5 669.5,340.5 677.5,338.5 685.5,336.5 693.5,333.5 701.5,330.5 709.5,327.5 717.5,324.5 725.5,322.5 733.5,318.5 741.5,315.5 749.5,312.5 757.5,308.5 765.5,305.5 773.5,302.5 781.5,299.5 789.5,296.5 797.5,293.5 805.5,289.5 813.5,285.5 821.5,281.5 829.5,278.5 837.5,275.5 845.5,272.5 853.5,269.5 861.5,267.5 869.5,263.5 877.5,260.5 885.5,257.5 893.5,253.5 901.5,248.5 909.5,243.5 917.5,238.5 925.5,234.5 933.5,229.5 941.5,224.5 949.5,219.5 957.5,214.5 965.5,208.5 973.5,203.5 981.5,201.5 989.5,200.5 997.5,199.5 1005.5,198.5 1013.5,196.5 1021.5,195.5 1029.5,196.5 1037.5,196.5 1045.5,197.5 1053.5,198.5 1061.5,198.5 1069.5,199.5 1077.5,200.5 1085.5,200.5 1093.5,200.5 1101.5,200.5 1109.5,200.5 1117.5,201.5 1125.5,203.5 1133.5,206.5 1141.5,210.5 1149.5,214.5 1157.5,217.5 1165.5,220.5 1173.5,224.5 1181.5,226.5 1189.5,229.5 1197.5,231.5 1205.5,234.5 1213.5,237.5 1221.5,240.5 1229.5,243.5 1237.5,247.5 1245.5,251.5 1253.5,256.5 1261.5,260.5 1269.5,264.5 1277.5,268.5 1285.5,272.5 1293.5,276.5 1301.5,280.5 1309.5,284.5 1317.5,287.5 1325.5,290.5 1333.5,294.5 1341.5,298.5 1349.5,302.5 1357.5,306.5 1365.5,310.5 1373.5,314.5 1381.5,318.5 1389.5,323.5 1397.5,328.5 1405.5,333.5 1413.5,337.5 1421.5,339.5 1429.5,340.5 1437.5,342.5 1445.5,343.5 1453.5,346.5 1461.5,350.5 1469.5,351.5 1477.5,353.5 1485.5,355.5 1493.5,357.5 1501.5,359.5 1509.5,360.5 1517.5,362.5 1525.5,365.5 1533.5,368.5 1541.5,371.5 1549.5,374.5 1557.5,378.5 1565.5,380.5 1573.5,382.5 1581.5,385.5 1589.5,386.5 1597.5,388.5 1605.5,390.5 1613.5,393.5 1621.5,396.5 1629.5,399.5 1637.5,402.5 1645.5,404.5 1653.5,407.5 1661.5,409.5" fill="none" stroke="#ff00ff" stroke-width="1"/>
<polyline points="5.5,462.5 13.5,460.5 21.5,456.5 29.5,453.5 37.5,449.5 45.5,444.5 53.5,440.5 61.5,437.5 69.5,433.5 77.5,429.5 85.5,427.5 93.5,425.5 101.5,422.5 109.5,420.5 117.5,417.5 125.5,414.5 133.5,410.5 141.5,408.5 149.5,406.5 157.5,405.5 165.5,405.5 173.5,404.5 181.5,402.5 189.5,400.5 197.5,397.5 205.5,395.5 213.5,393.5 221.5,391.5 229.5,390.5 237.5,388.5 245.5,387.5 253.5,385.5 261.5,383.5 269.5,383.5 277.5,382.5 285.5,381.5 293.5,381.5 301.5,382.5 309.5,382.5 317.5,379.5 325.5,376.5 333.5,373.5 341.5,371.5 349.5,370.5 357.5,369.5 365.5,368.5 373.5,368.5 381.5,367.5 389.5,366.5 397.5,364.5 405.5,364.5 413.5,362.5 421.5,361.5 429.5,360.5 437.5,357.5 445.5,357.5 453.5,357.5 461.5,358.5 469.5,358.5 477.5,359.5 485.5,359.5 493.5,358.5 501.5,357.5 509.5,356.5 517.5,356.5 525.5,358.5 533.5,358.5 541.5,356.5 549.5,356.5 557.5,355.5 565.5,354.5 573.5,352.5 581.5,350.5 589.5,348.5 597.5,346.5 605.5,343.5 613.5,338.5 621.5,332.5 629.5,326.5 637.5,322.5 645.5,316.5 653.5,311.5 661.5,307.5 669.5,304.5 677.5,300.5 685.5,294.5 693.5,287.5 701.5,280.5 709.5,274.5 717.5,268.5 725.5,263.5 733.5,257.5 741.5,252.5 749.5,247.5 757.5,241.5 765.5,237.5 773.5,232.5 781.5,229.5 789.5,225.5 797.5,221.5 805.5,214.5 813.5,208.5 821.5,203.5 829.5,199.5 837.5,195.5 845.5,191.5 853.5,188.5 861.5,187.5 869.5,184.5 877.5,182.5 885.5,180.5 893.5,176.5 901.5,173.5 909.5,170.5 917.5,166.5 925.5,163.5 933.5,160.5 941.5,154.5 949.5,148.5 957.5,143.5 965.5,137.5 973.5,134.5 981.5,137.5 989.5,142.5 997.5,147.5 1005.5,151.5 1013.5,153.5 1021.5,156.5 1029.5,164.5 1037.5,170.5 1045.5,176.5 1053.5,183.5 1061.5,191.5 1069.5,199.5 1077.5,207.5 1085.5,215.5 1093.5,223.5 1101.5,230.5 1109.5,240.5 1117.5,251.5 1125.5,264.5 1133.5,280.5 1141.5,296.5 1149.5,307.5 1157.5,315.5 1165.5,320.5 1173.5,326.5 1181.5,330.5 1189.5,334.5 1197.5,333.5 1205.5,335.5 1213.5,338.5 1221.5,339.5 1229.5,340.5 1237.5,345.5 1245.5,350.5 1253.5,356.5 1261.5,361.5 1269.5,366.5 1277.5,371.5 1285.5,378.5 1293.5,381.5 1301.5,381.5 1309.5,378.5 1317.5,374.5 1325.5,371.5 1333.5,369.5 1341.5,367.5 1349.5,368.5 1357.5,369.5 1365.5,370.5 1373.5,369.5 1381.5,367.5 1389.5,366.5 1397.5,367.5 1405.5,362.5 1413.5,358.5 1421.5,354.5 1429.5,351.5 1437.5,351.5 1445.5,348.5 1453.5,348.5 1461.5,348.5 1469.5,350.5 1477.5,352.5 1485.5,355.5 1493.5,356.5 1501.5,360.5 1509.5,362.5 1517.5,365.5 1525.5,369.5 1533.5,374.5 1541.5,381.5 1549.5,387.5 1557.5,394.5 1565.5,401.5 1573.5,410.5 1581.5,422.5 1589.5,432.5 1597.5,440.5 1605.5,447.5 1613.5,455.5 1621.5,460.5 1629.5,464.5 1637.5,466.5 1645.5,469.5 1653.5,472.5 1661.5,476.5" fill="none" stroke="#ffa500" stroke-width="1"/>
</g>
<rect x="5" y="137" width="1676" height="2" fill="#ff0000"/>
<rect x="5" y="253" width="1676" height="2" fill="#ff0000"/>
<rect x="5" y="354" width="1676" height="2" fill="#ff0000"/>
<rect x="5" y="470" width="1676" height="2" fill="#00ff7f"/>
<rect x="5" y="594" width="1676" height="2" fill="#4169e1"/>
<rect x="1681" y="41" width="2" height="1" fill="#000"/>
<text x="1686" y="45" font-size="9.8" fill="#000" stroke="#000" stroke-width="0.3" text-anchor="start" textLength="38.5" lengthAdjust="spacingAndGlyphs">3596.675</text>
<rect x="1681" y="74" width="2" height="1" fill="#000"/>
<text x="1686" y="78" font-size="9.8" fill="#000" stroke="#000" stroke-width="0.3" text-anchor="start" textLength="38.5" lengthAdjust="spacingAndGlyphs">3574.070</text>
<rect x="1681" y="107" width="2" height="1" fill="#000"/>
<text x="1686" y="111" font-size="9.8" fill="#000" stroke="#000" stroke-width="0.3" text-anchor="start" textLength="38.5" lengthAdjust="spacingAndGlyphs">3550.780</text>
<rect x="1681" y="140" width="2" height="1" fill="#000"/>
<text x="1686" y="144" font-size="9.8" fill="#000" stroke="#000" stroke-width="0.3" text-anchor="start" textLength="38.5" lengthAdjust="spacingAndGlyphs">3528.175</text>
<rect x="1681" y="173" width="2" height="1" fill="#000"/>
<text x="1686" y="177" font-size="9.8" fill="#000" stroke="#000" stroke-width="0.3" text-anchor="start" textLength="38.5" lengthAdjust="spacingAndGlyphs">3505.570</text>
<rect x="1681" y="206" width="2" height="1" fill="#000"/>
<text x="1686" y="210" font-size="9.8" fill="#000" stroke="#000" stroke-width="0.3" text-anchor="start" textLength="38.5" lengthAdjust="spacingAndGlyphs">3482.965</text>
<rect x="1681" y="239" width="2" height="1" fill="#000"/>
<text x="1686" y="243" font-size="9.8" fill="#000" stroke="#000" stroke-width="0.3" text-anchor="start" textLength="38.5" lengthAdjust="spacingAndGlyphs">3460.360</text>
<rect x="1681" y="272" width="2" height="1" fill="#000"/>
<text x="1686" y="276" font-size="9.8" fill="#000" stroke="#000" stroke-width="0.3" text-anchor="start" textLength="38.5" lengthAdjust="spacingAndGlyphs">3437.070</text>
<rect x="1681" y="305" width="2" height="1" fill="#000"/>
<text x="1686" y="309" font-size="9.8" fill="#000" stroke="#000" stroke-width="0.3" text-anchor="start" textLength="38.5" lengthAdjust="spacingAndGlyphs">3414.465</text>
<rect x="1681" y="338" width="2" height="1" fill="#000"/>
<text x="1686" y="342" font-size="9.8" fill="#000" stroke="#000" stroke-width="0.3" text-anchor="start" textLength="38.5" lengthAdjust="spacingAndGlyphs">3391.860</text>
<rect x="1681" y="371" width="2" height="1" fill="#000"/>
<text x="1686" y="375" font-size="9.8" fill="#000" stroke="#000" stroke-width="0.3" text-anchor="start" textLength="38.5" lengthAdjust="spacingAndGlyphs">3369.255</text>
<rect x="1681" y="404" width="2" height="1" fill="#000"/>
<text x="1686" y="408" font-size="9.8" fill="#000" stroke="#000" stroke-width="0.3" text-anchor="start" textLength="38.5" lengthAdjust="spacingAndGlyphs">3346.650</text>
<rect x="1681" y="437" width="2" height="1" fill="#000"/>
<text x="1686" y="441" font-size="9.8" fill="#000" stroke="#000" stroke-width="0.3" text-anchor="start" textLength="38.5" lengthAdjust="spacingAndGlyphs">3323.360</text>
<rect x="1681" y="470" width="2" height="1" fill="#000"/>
<text x="1686" y="474" font-size="9.8" fill="#000" stroke="#000" stroke-width="0.3" text-anchor="start" textLength="38.5" lengthAdjust="spacingAndGlyphs">3300.755</text>
<rect x="1681" y="503" width="2" height="1" fill="#000"/>
<text x="1686" y="507" font-size="9.8" fill="#000" stroke="#000" stroke-width="0.3" text-anchor="start" textLength="38.5" lengthAdjust="spacingAndGlyphs">3278.150</text>
<rect x="1681" y="536" width="2" height="1" fill="#000"/>
<text x="1686" y="540" font-size="9.8" fill="#000" stroke="#000" stroke-width="0.3" text-anchor="start" textLength="38.5" lengthAdjust="spacingAndGlyphs">3255.545</text>
<rect x="1681" y="569" width="2" height="1" fill="#000"/>
<text x="1686" y="573" font-size="9.8" fill="#000" stroke="#000" stroke-width="0.3" text-anchor="start" textLength="38.5" lengthAdjust="spacingAndGlyphs">3232.940</text>
<rect x="1681" y="602" width="2" height="1" fill="#000"/>
<text x="1686" y="606" font-size="9.8" fill="#000" stroke="#000" stroke-width="0.3" text-anchor="start" textLength="38.5" lengthAdjust="spacingAndGlyphs">3210.335</text>
<rect x="1682" y="132" width="43" height="11" fill="#ff0000"/>
<text x="1686" y="141" font-size="9.8" fill="#ffffff" stroke="#ffffff" stroke-width="0" text-anchor="start" textLength="38.5" lengthAdjust="spacingAndGlyphs">3530.000</text>
<rect x="1682" y="248" width="43" height="11" fill="#ff0000"/>
<text x="1686" y="257" font-size="9.8" fill="#ffffff" stroke="#ffffff" stroke-width="0" text-anchor="start" textLength="38.5" lengthAdjust="spacingAndGlyphs">3450.000</text>
<rect x="1682" y="349" width="43" height="11" fill="#ff0000"/>
<text x="1686" y="358" font-size="9.8" fill="#ffffff" stroke="#ffffff" stroke-width="0" text-anchor="start" textLength="38.5" lengthAdjust="spacingAndGlyphs">3380.000</text>
<rect x="1682" y="465" width="43" height="11" fill="#00ff7f"/>
<text x="1686" y="474" font-size="9.8" fill="#ffffff" stroke="#ffffff" stroke-width="0" text-anchor="start" textLength="38.5" lengthAdjust="spacingAndGlyphs">3300.000</text>
<rect x="1682" y="589" width="43" height="11" fill="#4169e1"/>
<text x="1686" y="598" font-size="9.8" fill="#ffffff" stroke="#ffffff" stroke-width="0" text-anchor="start" textLength="38.5" lengthAdjust="spacingAndGlyphs">3215.000</text>
<polygon points="8,35 15,35 11.5,38.8" fill="#000"/>
<text x="20" y="40" font-size="9.8" fill="#000" stroke="#000" stroke-width="0.3" text-anchor="start" textLength="212.5" lengthAdjust="spacingAndGlyphs">SP500-,H4&#160;&#160;3302.250 3303.500 3300.250 3301.000</text>
<text x="806.8" y="548.3" font-size="34" letter-spacing="-0.5" fill="#e8141c" font-family="Noto Sans CJK SC, sans-serif">多空转折点</text>
<text x="973.6" y="546.6" font-size="33" fill="#e8141c" textLength="77" lengthAdjust="spacingAndGlyphs" font-family="Liberation Sans, sans-serif">3300</text>
<g clip-path="url(#cd)" shape-rendering="crispEdges">
<rect x="5" y="631" width="1" height="37" fill="#c0c0c0"/>
<rect x="13" y="633" width="1" height="35" fill="#c0c0c0"/>
<rect x="21" y="632" width="1" height="36" fill="#c0c0c0"/>
<rect x="29" y="634" width="1" height="34" fill="#c0c0c0"/>
<rect x="37" y="634" width="1" height="34" fill="#c0c0c0"/>
<rect x="45" y="634" width="1" height="34" fill="#c0c0c0"/>
<rect x="53" y="632" width="1" height="36" fill="#c0c0c0"/>
<rect x="61" y="633" width="1" height="35" fill="#c0c0c0"/>
<rect x="69" y="634" width="1" height="34" fill="#c0c0c0"/>
<rect x="77" y="634" width="1" height="34" fill="#c0c0c0"/>
<rect x="85" y="635" width="1" height="33" fill="#c0c0c0"/>
<rect x="93" y="636" width="1" height="32" fill="#c0c0c0"/>
<rect x="101" y="636" width="1" height="32" fill="#c0c0c0"/>
<rect x="109" y="637" width="1" height="31" fill="#c0c0c0"/>
<rect x="117" y="635" width="1" height="33" fill="#c0c0c0"/>
<rect x="125" y="634" width="1" height="34" fill="#c0c0c0"/>
<rect x="133" y="635" width="1" height="33" fill="#c0c0c0"/>
<rect x="141" y="635" width="1" height="33" fill="#c0c0c0"/>
<rect x="149" y="642" width="1" height="26" fill="#c0c0c0"/>
<rect x="157" y="646" width="1" height="22" fill="#c0c0c0"/>
<rect x="165" y="650" width="1" height="18" fill="#c0c0c0"/>
<rect x="173" y="650" width="1" height="18" fill="#c0c0c0"/>
<rect x="181" y="651" width="1" height="17" fill="#c0c0c0"/>
<rect x="189" y="648" width="1" height="20" fill="#c0c0c0"/>
<rect x="197" y="646" width="1" height="22" fill="#c0c0c0"/>
<rect x="205" y="645" width="1" height="23" fill="#c0c0c0"/>
<rect x="213" y="646" width="1" height="22" fill="#c0c0c0"/>
<rect x="221" y="646" width="1" height="22" fill="#c0c0c0"/>
<rect x="229" y="647" width="1" height="21" fill="#c0c0c0"/>
<rect x="237" y="645" width="1" height="23" fill="#c0c0c0"/>
<rect x="245" y="646" width="1" height="22" fill="#c0c0c0"/>
<rect x="253" y="646" width="1" height="22" fill="#c0c0c0"/>
<rect x="261" y="647" width="1" height="21" fill="#c0c0c0"/>
<rect x="269" y="649" width="1" height="19" fill="#c0c0c0"/>
<rect x="277" y="651" width="1" height="17" fill="#c0c0c0"/>
<rect x="285" y="651" width="1" height="17" fill="#c0c0c0"/>
<rect x="293" y="652" width="1" height="16" fill="#c0c0c0"/>
<rect x="301" y="654" width="1" height="14" fill="#c0c0c0"/>
<rect x="309" y="655" width="1" height="13" fill="#c0c0c0"/>
<rect x="317" y="655" width="1" height="13" fill="#c0c0c0"/>
<rect x="325" y="655" width="1" height="13" fill="#c0c0c0"/>
<rect x="333" y="654" width="1" height="14" fill="#c0c0c0"/>
<rect x="341" y="653" width="1" height="15" fill="#c0c0c0"/>
<rect x="349" y="654" width="1" height="14" fill="#c0c0c0"/>
<rect x="357" y="653" width="1" height="15" fill="#c0c0c0"/>
<rect x="365" y="653" width="1" height="15" fill="#c0c0c0"/>
<rect x="373" y="654" width="1" height="14" fill="#c0c0c0"/>
<rect x="381" y="654" width="1" height="14" fill="#c0c0c0"/>
<rect x="389" y="654" width="1" height="14" fill="#c0c0c0"/>
<rect x="397" y="654" width="1" height="14" fill="#c0c0c0"/>
<rect x="405" y="653" width="1" height="15" fill="#c0c0c0"/>
<rect x="413" y="652" width="1" height="16" fill="#c0c0c0"/>
<rect x="421" y="652" width="1" height="16" fill="#c0c0c0"/>
<rect x="429" y="651" width="1" height="17" fill="#c0c0c0"/>
<rect x="437" y="651" width="1" height="17" fill="#c0c0c0"/>
<rect x="445" y="655" width="1" height="13" fill="#c0c0c0"/>
<rect x="453" y="659" width="1" height="9" fill="#c0c0c0"/>
<rect x="461" y="664" width="1" height="4" fill="#c0c0c0"/>
<rect x="469" y="666" width="1" height="2" fill="#c0c0c0"/>
<rect x="477" y="666" width="1" height="2" fill="#c0c0c0"/>
<rect x="493" y="666" width="1" height="2" fill="#c0c0c0"/>
<rect x="501" y="663" width="1" height="5" fill="#c0c0c0"/>
<rect x="509" y="663" width="1" height="5" fill="#c0c0c0"/>
<rect x="517" y="662" width="1" height="6" fill="#c0c0c0"/>
<rect x="525" y="665" width="1" height="3" fill="#c0c0c0"/>
<rect x="533" y="663" width="1" height="5" fill="#c0c0c0"/>
<rect x="541" y="661" width="1" height="7" fill="#c0c0c0"/>
<rect x="549" y="659" width="1" height="9" fill="#c0c0c0"/>
<rect x="557" y="657" width="1" height="11" fill="#c0c0c0"/>
<rect x="565" y="653" width="1" height="15" fill="#c0c0c0"/>
<rect x="573" y="649" width="1" height="19" fill="#c0c0c0"/>
<rect x="581" y="647" width="1" height="21" fill="#c0c0c0"/>
<rect x="589" y="644" width="1" height="24" fill="#c0c0c0"/>
<rect x="597" y="641" width="1" height="27" fill="#c0c0c0"/>
<rect x="605" y="637" width="1" height="31" fill="#c0c0c0"/>
<rect x="613" y="634" width="1" height="34" fill="#c0c0c0"/>
<rect x="621" y="633" width="1" height="35" fill="#c0c0c0"/>
<rect x="629" y="634" width="1" height="34" fill="#c0c0c0"/>
<rect x="637" y="634" width="1" height="34" fill="#c0c0c0"/>
<rect x="645" y="633" width="1" height="35" fill="#c0c0c0"/>
<rect x="653" y="635" width="1" height="33" fill="#c0c0c0"/>
<rect x="661" y="635" width="1" height="33" fill="#c0c0c0"/>
<rect x="669" y="635" width="1" height="33" fill="#c0c0c0"/>
<rect x="677" y="630" width="1" height="38" fill="#c0c0c0"/>
<rect x="685" y="627" width="1" height="41" fill="#c0c0c0"/>
<rect x="693" y="626" width="1" height="42" fill="#c0c0c0"/>
<rect x="701" y="625" width="1" height="43" fill="#c0c0c0"/>
<rect x="709" y="626" width="1" height="42" fill="#c0c0c0"/>
<rect x="717" y="622" width="1" height="46" fill="#c0c0c0"/>
<rect x="725" y="624" width="1" height="44" fill="#c0c0c0"/>
<rect x="733" y="623" width="1" height="45" fill="#c0c0c0"/>
<rect x="741" y="623" width="1" height="45" fill="#c0c0c0"/>
<rect x="749" y="622" width="1" height="46" fill="#c0c0c0"/>
<rect x="757" y="620" width="1" height="48" fill="#c0c0c0"/>
<rect x="765" y="621" width="1" height="47" fill="#c0c0c0"/>
<rect x="773" y="621" width="1" height="47" fill="#c0c0c0"/>
<rect x="781" y="623" width="1" height="45" fill="#c0c0c0"/>
<rect x="789" y="623" width="1" height="45" fill="#c0c0c0"/>
<rect x="797" y="623" width="1" height="45" fill="#c0c0c0"/>
<rect x="805" y="622" width="1" height="46" fill="#c0c0c0"/>
<rect x="813" y="620" width="1" height="48" fill="#c0c0c0"/>
<rect x="821" y="621" width="1" height="47" fill="#c0c0c0"/>
<rect x="829" y="623" width="1" height="45" fill="#c0c0c0"/>
<rect x="837" y="626" width="1" height="42" fill="#c0c0c0"/>
<rect x="845" y="630" width="1" height="38" fill="#c0c0c0"/>
<rect x="853" y="634" width="1" height="34" fill="#c0c0c0"/>
<rect x="861" y="636" width="1" height="32" fill="#c0c0c0"/>
<rect x="869" y="636" width="1" height="32" fill="#c0c0c0"/>
<rect x="877" y="638" width="1" height="30" fill="#c0c0c0"/>
<rect x="885" y="640" width="1" height="28" fill="#c0c0c0"/>
<rect x="893" y="638" width="1" height="30" fill="#c0c0c0"/>
<rect x="901" y="636" width="1" height="32" fill="#c0c0c0"/>
<rect x="909" y="634" width="1" height="34" fill="#c0c0c0"/>
<rect x="917" y="632" width="1" height="36" fill="#c0c0c0"/>
<rect x="925" y="630" width="1" height="38" fill="#c0c0c0"/>
<rect x="933" y="629" width="1" height="39" fill="#c0c0c0"/>
<rect x="941" y="624" width="1" height="44" fill="#c0c0c0"/>
<rect x="949" y="619" width="1" height="49" fill="#c0c0c0"/>
<rect x="957" y="617" width="1" height="51" fill="#c0c0c0"/>
<rect x="965" y="615" width="1" height="53" fill="#c0c0c0"/>
<rect x="973" y="617" width="1" height="51" fill="#c0c0c0"/>
<rect x="981" y="633" width="1" height="35" fill="#c0c0c0"/>
<rect x="989" y="650" width="1" height="18" fill="#c0c0c0"/>
<rect x="1005" y="667" width="1" height="13" fill="#c0c0c0"/>
<rect x="1013" y="667" width="1" height="17" fill="#c0c0c0"/>
<rect x="1021" y="667" width="1" height="24" fill="#c0c0c0"/>
<rect x="1029" y="667" width="1" height="38" fill="#c0c0c0"/>
<rect x="1037" y="667" width="1" height="44" fill="#c0c0c0"/>
<rect x="1045" y="667" width="1" height="49" fill="#c0c0c0"/>
<rect x="1053" y="667" width="1" height="54" fill="#c0c0c0"/>
<rect x="1061" y="667" width="1" height="56" fill="#c0c0c0"/>
<rect x="1069" y="667" width="1" height="59" fill="#c0c0c0"/>
<rect x="1077" y="667" width="1" height="57" fill="#c0c0c0"/>
<rect x="1085" y="667" width="1" height="53" fill="#c0c0c0"/>
<rect x="1093" y="667" width="1" height="50" fill="#c0c0c0"/>
<rect x="1101" y="667" width="1" height="46" fill="#c0c0c0"/>
<rect x="1109" y="667" width="1" height="44" fill="#c0c0c0"/>
<rect x="1117" y="667" width="1" height="41" fill="#c0c0c0"/>
<rect x="1125" y="667" width="1" height="46" fill="#c0c0c0"/>
<rect x="1133" y="667" width="1" height="55" fill="#c0c0c0"/>
<rect x="1141" y="667" width="1" height="65" fill="#c0c0c0"/>
<rect x="1149" y="667" width="1" height="73" fill="#c0c0c0"/>
<rect x="1157" y="667" width="1" height="76" fill="#c0c0c0"/>
<rect x="1165" y="667" width="1" height="75" fill="#c0c0c0"/>
<rect x="1173" y="667" width="1" height="72" fill="#c0c0c0"/>
<rect x="1181" y="667" width="1" height="62" fill="#c0c0c0"/>
<rect x="1189" y="667" width="1" height="55" fill="#c0c0c0"/>
<rect x="1197" y="667" width="1" height="47" fill="#c0c0c0"/>
<rect x="1205" y="667" width="1" height="43" fill="#c0c0c0"/>
<rect x="1213" y="667" width="1" height="41" fill="#c0c0c0"/>
<rect x="1221" y="667" width="1" height="37" fill="#c0c0c0"/>
<rect x="1229" y="667" width="1" height="33" fill="#c0c0c0"/>
<rect x="1237" y="667" width="1" height="39" fill="#c0c0c0"/>
<rect x="1245" y="667" width="1" height="42" fill="#c0c0c0"/>
<rect x="1253" y="667" width="1" height="41" fill="#c0c0c0"/>
<rect x="1261" y="667" width="1" height="40" fill="#c0c0c0"/>
<rect x="1269" y="667" width="1" height="38" fill="#c0c0c0"/>
<rect x="1277" y="667" width="1" height="39" fill="#c0c0c0"/>
<rect x="1285" y="667" width="1" height="41" fill="#c0c0c0"/>
<rect x="1293" y="667" width="1" height="42" fill="#c0c0c0"/>
<rect x="1301" y="667" width="1" height="39" fill="#c0c0c0"/>
<rect x="1309" y="667" width="1" height="33" fill="#c0c0c0"/>
<rect x="1317" y="667" width="1" height="28" fill="#c0c0c0"/>
<rect x="1325" y="667" width="1" height="25" fill="#c0c0c0"/>
<rect x="1333" y="667" width="1" height="18" fill="#c0c0c0"/>
<rect x="1341" y="667" width="1" height="14" fill="#c0c0c0"/>
<rect x="1349" y="667" width="1" height="11" fill="#c0c0c0"/>
<rect x="1357" y="667" width="1" height="8" fill="#c0c0c0"/>
<rect x="1365" y="667" width="1" height="5" fill="#c0c0c0"/>
<rect x="1373" y="666" width="1" height="2" fill="#c0c0c0"/>
<rect x="1381" y="662" width="1" height="6" fill="#c0c0c0"/>
<rect x="1389" y="660" width="1" height="8" fill="#c0c0c0"/>
<rect x="1397" y="660" width="1" height="8" fill="#c0c0c0"/>
<rect x="1405" y="659" width="1" height="9" fill="#c0c0c0"/>
<rect x="1413" y="657" width="1" height="11" fill="#c0c0c0"/>
<rect x="1421" y="655" width="1" height="13" fill="#c0c0c0"/>
<rect x="1429" y="654" width="1" height="14" fill="#c0c0c0"/>
<rect x="1437" y="659" width="1" height="9" fill="#c0c0c0"/>
<rect x="1445" y="662" width="1" height="6" fill="#c0c0c0"/>
<rect x="1453" y="667" width="1" height="4" fill="#c0c0c0"/>
<rect x="1461" y="667" width="1" height="12" fill="#c0c0c0"/>
<rect x="1469" y="667" width="1" height="18" fill="#c0c0c0"/>
<rect x="1477" y="667" width="1" height="22" fill="#c0c0c0"/>
<rect x="1485" y="667" width="1" height="23" fill="#c0c0c0"/>
<rect x="1493" y="667" width="1" height="24" fill="#c0c0c0"/>
<rect x="1501" y="667" width="1" height="25" fill="#c0c0c0"/>
<rect x="1509" y="667" width="1" height="25" fill="#c0c0c0"/>
<rect x="1517" y="667" width="1" height="24" fill="#c0c0c0"/>
<rect x="1525" y="667" width="1" height="26" fill="#c0c0c0"/>
<rect x="1533" y="667" width="1" height="31" fill="#c0c0c0"/>
<rect x="1541" y="667" width="1" height="34" fill="#c0c0c0"/>
<rect x="1549" y="667" width="1" height="35" fill="#c0c0c0"/>
<rect x="1557" y="667" width="1" height="37" fill="#c0c0c0"/>
<rect x="1565" y="667" width="1" height="43" fill="#c0c0c0"/>
<rect x="1573" y="667" width="1" height="49" fill="#c0c0c0"/>
<rect x="1581" y="667" width="1" height="58" fill="#c0c0c0"/>
<rect x="1589" y="667" width="1" height="59" fill="#c0c0c0"/>
<rect x="1597" y="667" width="1" height="58" fill="#c0c0c0"/>
<rect x="1605" y="667" width="1" height="57" fill="#c0c0c0"/>
<rect x="1613" y="667" width="1" height="57" fill="#c0c0c0"/>
<rect x="1621" y="667" width="1" height="56" fill="#c0c0c0"/>
<rect x="1629" y="667" width="1" height="53" fill="#c0c0c0"/>
<rect x="1637" y="667" width="1" height="46" fill="#c0c0c0"/>
<rect x="1645" y="667" width="1" height="42" fill="#c0c0c0"/>
<rect x="1653" y="667" width="1" height="36" fill="#c0c0c0"/>
<rect x="1661" y="667" width="1" height="32" fill="#c0c0c0"/>
<polyline points="5.5,631.5 13.5,632.5 21.5,632.5 29.5,632.5 37.5,633.5 45.5,633.5 53.5,633.5 61.5,633.5 69.5,633.5 77.5,633.5 85.5,634.5 93.5,634.5 101.5,634.5 109.5,634.5 117.5,635.5 125.5,635.5 133.5,635.5 141.5,635.5 149.5,636.5 157.5,637.5 165.5,638.5 173.5,640.5 181.5,641.5 189.5,643.5 197.5,644.5 205.5,645.5 213.5,646.5 221.5,647.5 229.5,647.5 237.5,646.5 245.5,646.5 253.5,646.5 261.5,646.5 269.5,646.5 277.5,647.5 285.5,647.5 293.5,648.5 301.5,648.5 309.5,649.5 317.5,650.5 325.5,651.5 333.5,652.5 341.5,653.5 349.5,653.5 357.5,654.5 365.5,654.5 373.5,654.5 381.5,654.5 389.5,653.5 397.5,653.5 405.5,653.5 413.5,653.5 421.5,653.5 429.5,652.5 437.5,652.5 445.5,652.5 453.5,653.5 461.5,654.5 469.5,656.5 477.5,658.5 485.5,659.5 493.5,661.5 501.5,662.5 509.5,663.5 517.5,664.5 525.5,665.5 533.5,665.5 541.5,664.5 549.5,663.5 557.5,662.5 565.5,661.5 573.5,660.5 581.5,658.5 589.5,656.5 597.5,654.5 605.5,651.5 613.5,648.5 621.5,645.5 629.5,643.5 637.5,640.5 645.5,638.5 653.5,637.5 661.5,636.5 669.5,635.5 677.5,634.5 685.5,633.5 693.5,632.5 701.5,631.5 709.5,631.5 717.5,630.5 725.5,628.5 733.5,626.5 741.5,625.5 749.5,624.5 757.5,624.5 765.5,623.5 773.5,622.5 781.5,622.5 789.5,622.5 797.5,622.5 805.5,622.5 813.5,622.5 821.5,621.5 829.5,622.5 837.5,622.5 845.5,623.5 853.5,625.5 861.5,626.5 869.5,628.5 877.5,629.5 885.5,632.5 893.5,634.5 901.5,635.5 909.5,636.5 917.5,636.5 925.5,636.5 933.5,635.5 941.5,634.5 949.5,631.5 957.5,629.5 965.5,626.5 973.5,624.5 981.5,624.5 989.5,626.5 997.5,630.5 1005.5,636.5 1013.5,642.5 1021.5,650.5 1029.5,660.5 1037.5,670.5 1045.5,681.5 1053.5,691.5 1061.5,699.5 1069.5,705.5 1077.5,710.5 1085.5,714.5 1093.5,717.5 1101.5,718.5 1109.5,718.5 1117.5,717.5 1125.5,716.5 1133.5,716.5 1141.5,717.5 1149.5,718.5 1157.5,721.5 1165.5,724.5 1173.5,727.5 1181.5,729.5 1189.5,730.5 1197.5,730.5 1205.5,729.5 1213.5,726.5 1221.5,722.5 1229.5,718.5 1237.5,714.5 1245.5,710.5 1253.5,708.5 1261.5,706.5 1269.5,705.5 1277.5,705.5 1285.5,705.5 1293.5,706.5 1301.5,706.5 1309.5,705.5 1317.5,704.5 1325.5,702.5 1333.5,700.5 1341.5,697.5 1349.5,694.5 1357.5,690.5 1365.5,686.5 1373.5,682.5 1381.5,678.5 1389.5,674.5 1397.5,671.5 1405.5,668.5 1413.5,665.5 1421.5,663.5 1429.5,661.5 1437.5,659.5 1445.5,659.5 1453.5,660.5 1461.5,662.5 1469.5,664.5 1477.5,667.5 1485.5,671.5 1493.5,675.5 1501.5,679.5 1509.5,682.5 1517.5,686.5 1525.5,688.5 1533.5,690.5 1541.5,692.5 1549.5,693.5 1557.5,695.5 1565.5,697.5 1573.5,700.5 1581.5,704.5 1589.5,708.5 1597.5,711.5 1605.5,714.5 1613.5,717.5 1621.5,719.5 1629.5,721.5 1637.5,721.5 1645.5,720.5 1653.5,718.5 1661.5,715.5" fill="none" stroke="#ff0000" stroke-width="1" stroke-dasharray="3,3"/>
</g>
<text x="9" y="620" font-size="9.8" fill="#000" stroke="#000" stroke-width="0.3" text-anchor="start" textLength="144.5" lengthAdjust="spacingAndGlyphs">MACD(12,26,9) -15.3657 -23.5606</text>
<rect x="1681" y="609" width="2" height="1" fill="#000"/>
<rect x="1681" y="667" width="2" height="1" fill="#000"/>
<rect x="1681" y="748" width="2" height="1" fill="#000"/>
<text x="1684" y="618" font-size="9.8" fill="#000" stroke="#000" stroke-width="0.3" text-anchor="start" textLength="33.3" lengthAdjust="spacingAndGlyphs">28.5114</text>
<text x="1684" y="671" font-size="9.8" fill="#000" stroke="#000" stroke-width="0.3" text-anchor="start" textLength="18.3" lengthAdjust="spacingAndGlyphs">0.00</text>
<text x="1684" y="746" font-size="9.8" fill="#000" stroke="#000" stroke-width="0.3" text-anchor="start" textLength="36" lengthAdjust="spacingAndGlyphs">-39.9869</text>
<g clip-path="url(#cr)" shape-rendering="crispEdges">
<line x1="6" y1="788.5" x2="1680" y2="788.5" stroke="#c0c0c0" stroke-dasharray="3,3"/>
<line x1="6" y1="835.5" x2="1680" y2="835.5" stroke="#c0c0c0" stroke-dasharray="3,3"/>
<polyline points="5.5,790.5 13.5,799.5 21.5,795.5 29.5,799.5 37.5,798.5 45.5,795.5 53.5,795.5 61.5,796.5 69.5,793.5 77.5,793.5 85.5,795.5 93.5,795.5 101.5,792.5 109.5,794.5 117.5,790.5 125.5,787.5 133.5,787.5 141.5,790.5 149.5,817.5 157.5,813.5 165.5,814.5 173.5,803.5 181.5,803.5 189.5,796.5 197.5,795.5 205.5,798.5 213.5,799.5 221.5,799.5 229.5,801.5 237.5,796.5 245.5,802.5 253.5,798.5 261.5,800.5 269.5,809.5 277.5,806.5 285.5,804.5 293.5,805.5 301.5,809.5 309.5,805.5 317.5,803.5 325.5,802.5 333.5,803.5 341.5,799.5 349.5,800.5 357.5,795.5 365.5,800.5 373.5,805.5 381.5,800.5 389.5,800.5 397.5,798.5 405.5,795.5 413.5,794.5 421.5,795.5 429.5,796.5 437.5,793.5 445.5,816.5 453.5,822.5 461.5,827.5 469.5,822.5 477.5,820.5 485.5,808.5 493.5,805.5 501.5,801.5 509.5,802.5 517.5,807.5 525.5,820.5 533.5,809.5 541.5,802.5 549.5,803.5 557.5,801.5 565.5,799.5 573.5,795.5 581.5,790.5 589.5,794.5 597.5,790.5 605.5,788.5 613.5,785.5 621.5,785.5 629.5,788.5 637.5,799.5 645.5,794.5 653.5,792.5 661.5,794.5 669.5,794.5 677.5,794.5 685.5,788.5 693.5,783.5 701.5,781.5 709.5,784.5 717.5,784.5 725.5,788.5 733.5,780.5 741.5,790.5 749.5,787.5 757.5,783.5 765.5,792.5 773.5,791.5 781.5,795.5 789.5,791.5 797.5,791.5 805.5,787.5 813.5,786.5 821.5,790.5 829.5,793.5 837.5,800.5 845.5,803.5 853.5,804.5 861.5,800.5 869.5,796.5 877.5,802.5 885.5,801.5 893.5,793.5 901.5,789.5 909.5,789.5 917.5,786.5 925.5,786.5 933.5,786.5 941.5,777.5 949.5,776.5 957.5,782.5 965.5,781.5 973.5,792.5 981.5,826.5 989.5,832.5 997.5,836.5 1005.5,831.5 1013.5,822.5 1021.5,826.5 1029.5,836.5 1037.5,826.5 1045.5,827.5 1053.5,829.5 1061.5,826.5 1069.5,828.5 1077.5,823.5 1085.5,819.5 1093.5,819.5 1101.5,817.5 1109.5,820.5 1117.5,818.5 1125.5,830.5 1133.5,834.5 1141.5,837.5 1149.5,839.5 1157.5,833.5 1165.5,828.5 1173.5,825.5 1181.5,814.5 1189.5,815.5 1197.5,812.5 1205.5,817.5 1213.5,818.5 1221.5,816.5 1229.5,815.5 1237.5,827.5 1245.5,825.5 1253.5,821.5 1261.5,820.5 1269.5,819.5 1277.5,823.5 1285.5,825.5 1293.5,826.5 1301.5,816.5 1309.5,813.5 1317.5,811.5 1325.5,814.5 1333.5,806.5 1341.5,811.5 1349.5,810.5 1357.5,809.5 1365.5,808.5 1373.5,803.5 1381.5,801.5 1389.5,806.5 1397.5,810.5 1405.5,806.5 1413.5,806.5 1421.5,802.5 1429.5,806.5 1437.5,817.5 1445.5,815.5 1453.5,826.5 1461.5,829.5 1469.5,828.5 1477.5,825.5 1485.5,822.5 1493.5,822.5 1501.5,823.5 1509.5,822.5 1517.5,819.5 1525.5,826.5 1533.5,832.5 1541.5,828.5 1549.5,828.5 1557.5,830.5 1565.5,836.5 1573.5,840.5 1581.5,845.5 1589.5,830.5 1597.5,825.5 1605.5,827.5 1613.5,829.5 1621.5,827.5 1629.5,825.5 1637.5,814.5 1645.5,816.5 1653.5,814.5 1661.5,814.5" fill="none" stroke="#1e90ff" stroke-width="1"/>
</g>
<text x="9" y="764" font-size="9.8" fill="#000" stroke="#000" stroke-width="0.3" text-anchor="start" textLength="68.2" lengthAdjust="spacingAndGlyphs">RSI(14) 47.4997</text>
<rect x="1681" y="753" width="2" height="1" fill="#000"/>
<rect x="1681" y="788" width="2" height="1" fill="#000"/>
<rect x="1681" y="835" width="2" height="1" fill="#000"/>
<rect x="1681" y="870" width="2" height="1" fill="#000"/>
<text x="1684" y="762" font-size="9.8" fill="#000" stroke="#000" stroke-width="0.3" text-anchor="start" textLength="14.8" lengthAdjust="spacingAndGlyphs">100</text>
<text x="1684" y="792" font-size="9.8" fill="#000" stroke="#000" stroke-width="0.3" text-anchor="start" textLength="9.8" lengthAdjust="spacingAndGlyphs">70</text>
<text x="1684" y="839" font-size="9.8" fill="#000" stroke="#000" stroke-width="0.3" text-anchor="start" textLength="9.8" lengthAdjust="spacingAndGlyphs">30</text>
<text x="1684" y="868" font-size="9.8" fill="#000" stroke="#000" stroke-width="0.3" text-anchor="start" textLength="5" lengthAdjust="spacingAndGlyphs">0</text>
<rect x="5" y="872" width="1" height="3" fill="#000"/>
<text x="4" y="884" font-size="9.8" fill="#000" stroke="#000" stroke-width="0.3" text-anchor="start" letter-spacing="-0.22">6 Aug 2020</text>
<rect x="69" y="872" width="1" height="3" fill="#000"/>
<text x="69" y="884" font-size="9.8" fill="#000" stroke="#000" stroke-width="0.3" text-anchor="start" letter-spacing="-0.22">10 Aug 00:00</text>
<rect x="133" y="872" width="1" height="3" fill="#000"/>
<text x="133" y="884" font-size="9.8" fill="#000" stroke="#000" stroke-width="0.3" text-anchor="start" letter-spacing="-0.22">11 Aug 08:00</text>
<rect x="197" y="872" width="1" height="3" fill="#000"/>
<text x="197" y="884" font-size="9.8" fill="#000" stroke="#000" stroke-width="0.3" text-anchor="start" letter-spacing="-0.22">12 Aug 16:00</text>
<rect x="261" y="872" width="1" height="3" fill="#000"/>
<text x="261" y="884" font-size="9.8" fill="#000" stroke="#000" stroke-width="0.3" text-anchor="start" letter-spacing="-0.22">14 Aug 00:00</text>
<rect x="325" y="872" width="1" height="3" fill="#000"/>
<text x="325" y="884" font-size="9.8" fill="#000" stroke="#000" stroke-width="0.3" text-anchor="start" letter-spacing="-0.22">17 Aug 04:00</text>
<rect x="389" y="872" width="1" height="3" fill="#000"/>
<text x="389" y="884" font-size="9.8" fill="#000" stroke="#000" stroke-width="0.3" text-anchor="start" letter-spacing="-0.22">18 Aug 12:00</text>
<rect x="453" y="872" width="1" height="3" fill="#000"/>
<text x="453" y="884" font-size="9.8" fill="#000" stroke="#000" stroke-width="0.3" text-anchor="start" letter-spacing="-0.22">19 Aug 20:00</text>
<rect x="517" y="872" width="1" height="3" fill="#000"/>
<text x="517" y="884" font-size="9.8" fill="#000" stroke="#000" stroke-width="0.3" text-anchor="start" letter-spacing="-0.22">21 Aug 04:00</text>
<rect x="581" y="872" width="1" height="3" fill="#000"/>
<text x="581" y="884" font-size="9.8" fill="#000" stroke="#000" stroke-width="0.3" text-anchor="start" letter-spacing="-0.22">24 Aug 08:00</text>
<rect x="645" y="872" width="1" height="3" fill="#000"/>
<text x="645" y="884" font-size="9.8" fill="#000" stroke="#000" stroke-width="0.3" text-anchor="start" letter-spacing="-0.22">25 Aug 16:00</text>
<rect x="709" y="872" width="1" height="3" fill="#000"/>
<text x="709" y="884" font-size="9.8" fill="#000" stroke="#000" stroke-width="0.3" text-anchor="start" letter-spacing="-0.22">27 Aug 00:00</text>
<rect x="773" y="872" width="1" height="3" fill="#000"/>
<text x="773" y="884" font-size="9.8" fill="#000" stroke="#000" stroke-width="0.3" text-anchor="start" letter-spacing="-0.22">28 Aug 08:00</text>
<rect x="837" y="872" width="1" height="3" fill="#000"/>
<text x="837" y="884" font-size="9.8" fill="#000" stroke="#000" stroke-width="0.3" text-anchor="start" letter-spacing="-0.22">31 Aug 12:00</text>
<rect x="901" y="872" width="1" height="3" fill="#000"/>
<text x="901" y="884" font-size="9.8" fill="#000" stroke="#000" stroke-width="0.3" text-anchor="start" letter-spacing="-0.22">1 Sep 20:00</text>
<rect x="965" y="872" width="1" height="3" fill="#000"/>
<text x="965" y="884" font-size="9.8" fill="#000" stroke="#000" stroke-width="0.3" text-anchor="start" letter-spacing="-0.22">3 Sep 04:00</text>
<rect x="1029" y="872" width="1" height="3" fill="#000"/>
<text x="1029" y="884" font-size="9.8" fill="#000" stroke="#000" stroke-width="0.3" text-anchor="start" letter-spacing="-0.22">4 Sep 12:00</text>
<rect x="1093" y="872" width="1" height="3" fill="#000"/>
<text x="1093" y="884" font-size="9.8" fill="#000" stroke="#000" stroke-width="0.3" text-anchor="start" letter-spacing="-0.22">7 Sep 16:00</text>
<rect x="1157" y="872" width="1" height="3" fill="#000"/>
<text x="1157" y="884" font-size="9.8" fill="#000" stroke="#000" stroke-width="0.3" text-anchor="start" letter-spacing="-0.22">9 Sep 00:00</text>
<rect x="1221" y="872" width="1" height="3" fill="#000"/>
<text x="1221" y="884" font-size="9.8" fill="#000" stroke="#000" stroke-width="0.3" text-anchor="start" letter-spacing="-0.22">10 Sep 08:00</text>
<rect x="1285" y="872" width="1" height="3" fill="#000"/>
<text x="1285" y="884" font-size="9.8" fill="#000" stroke="#000" stroke-width="0.3" text-anchor="start" letter-spacing="-0.22">11 Sep 16:00</text>
<rect x="1349" y="872" width="1" height="3" fill="#000"/>
<text x="1349" y="884" font-size="9.8" fill="#000" stroke="#000" stroke-width="0.3" text-anchor="start" letter-spacing="-0.22">14 Sep 20:00</text>
<rect x="1413" y="872" width="1" height="3" fill="#000"/>
<text x="1413" y="884" font-size="9.8" fill="#000" stroke="#000" stroke-width="0.3" text-anchor="start" letter-spacing="-0.22">16 Sep 04:00</text>
<rect x="1477" y="872" width="1" height="3" fill="#000"/>
<text x="1477" y="884" font-size="9.8" fill="#000" stroke="#000" stroke-width="0.3" text-anchor="start" letter-spacing="-0.22">17 Sep 12:00</text>
<rect x="1541" y="872" width="1" height="3" fill="#000"/>
<text x="1541" y="884" font-size="9.8" fill="#000" stroke="#000" stroke-width="0.3" text-anchor="start" letter-spacing="-0.22">18 Sep 20:00</text>
<rect x="1605" y="872" width="1" height="3" fill="#000"/>
<text x="1605" y="884" font-size="9.8" fill="#000" stroke="#000" stroke-width="0.3" text-anchor="start" letter-spacing="-0.22">22 Sep 00:00</text>
</svg>
</body></html>
